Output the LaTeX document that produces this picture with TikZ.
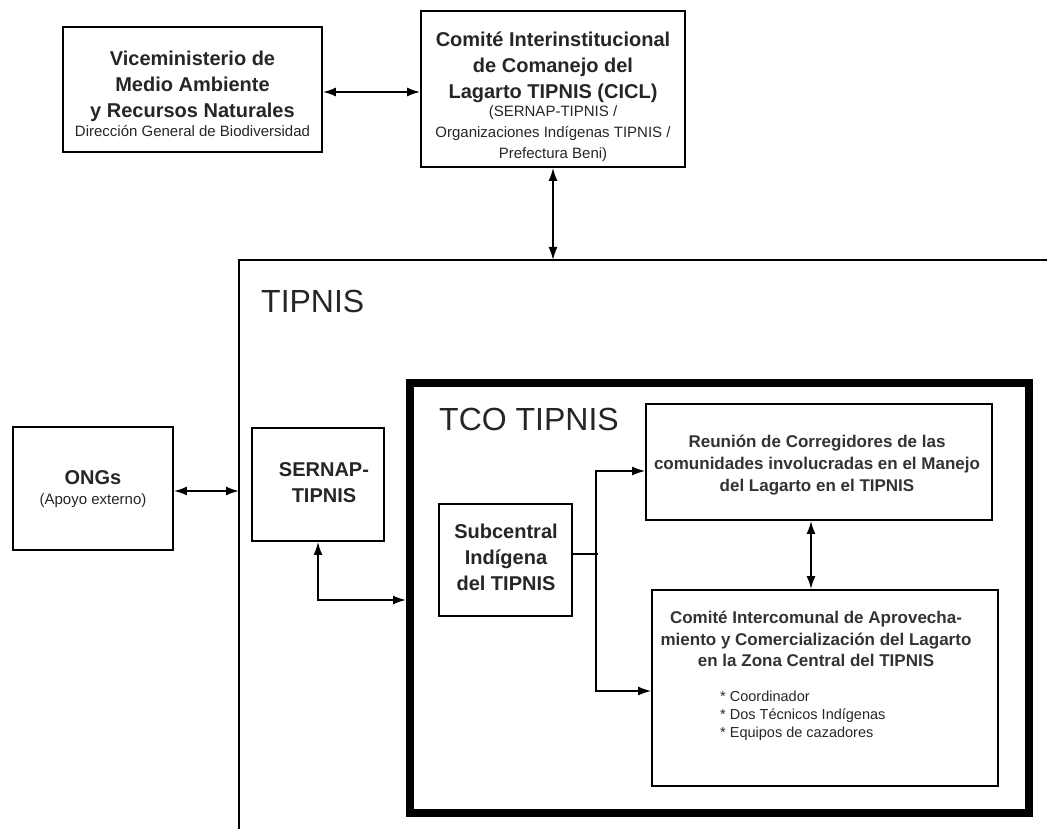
\documentclass[tikz,border=0pt]{standalone}
\usepackage{fontspec}
\setmainfont{Liberation Sans}
\usetikzlibrary{arrows.meta}
\begin{document}
\begin{tikzpicture}[x=1pt,y=-1pt,
  box/.style={draw=black, line width=1.8pt, inner sep=0pt},
  thickbox/.style={draw=black, line width=8pt},
  txt/.style={align=center, inner sep=0pt, text=black!85, font=\fontsize{20}{26}\selectfont\bfseries},
  smalltxt/.style={inner sep=0pt, text=black!85, font=\fontsize{15}{18}\selectfont},
  midtxt/.style={align=center, inner sep=0pt, text=black!80, font=\fontsize{17}{22}\selectfont\bfseries},
  bigtxt/.style={inner sep=0pt, text=black!85, font=\fontsize{32}{36}\selectfont},
  conn/.style={line width=1.8pt},
  biarrow/.style={conn, {Latex[length=13pt,width=9pt]}-{Latex[length=13pt,width=9pt]}},
  onearrow/.style={line width=1.5pt, -{Latex[length=13pt,width=9pt]}}
]
\useasboundingbox (0,0) rectangle (1047,829);
\fill[white] (0,0) rectangle (1047,829);

% top boxes
\node[box, minimum width=259pt, minimum height=125pt] (vice) at (192.5,89.5) {};
\node[txt] (vicet) at (192.5,93.5) {Viceministerio de\\Medio Ambiente\\y Recursos Naturales\\[-7pt]{\fontsize{15}{18}\selectfont\mdseries Dirección General de Biodiversidad}};

\node[box, minimum width=264pt, minimum height=156pt] (cicl) at (553,89) {};
\node[txt] (ciclt) at (553,96.5) {Comité Interinstitucional\\de Comanejo del\\Lagarto TIPNIS (CICL)\\[-8pt]{\fontsize{15}{21}\selectfont\mdseries (SERNAP-TIPNIS /}\\[-5pt]{\fontsize{15}{21}\selectfont\mdseries Organizaciones Indígenas TIPNIS /}\\[-5pt]{\fontsize{15}{21}\selectfont\mdseries Prefectura Beni)}};

% TIPNIS open box
\coordinate (tipTR) at (1047,260);
\coordinate (tipTL) at (239,260);
\coordinate (tipBL) at (239,829);
\draw[conn] (tipTR) -- (tipTL) -- (tipBL);
\node[bigtxt, anchor=base west] (tipnislab) at (261,312) {TIPNIS};
\coordinate (tiptop) at (553,260);
\coordinate (tipleft) at (239,491);

% ONGs and SERNAP
\node[box, minimum width=160pt, minimum height=123pt] (ongs) at (93,488.5) {};
\node[txt] (ongst) at (93,489) {ONGs\\[-6pt]{\fontsize{15}{18}\selectfont\mdseries (Apoyo externo)}};

\node[box, minimum width=132pt, minimum height=113pt] (sernap) at (318,484.5) {};
\node[txt] (sernapt) at (324,483) {SERNAP-\\TIPNIS};

% TCO box
\draw[thickbox] (410,383) rectangle (1029,813);
\node[bigtxt, anchor=base west] (tcolab) at (439,430) {TCO TIPNIS};
\coordinate (tcoin) at (406,600);

% inner boxes
\node[box, minimum width=133pt, minimum height=112pt] (sub) at (505.5,560) {};
\node[txt] (subt) at (506,557) {Subcentral\\Indígena\\del TIPNIS};

\node[box, minimum width=346pt, minimum height=116pt] (reu) at (819,462) {};
\node[midtxt] (reut) at (817,465) {Reunión de Corregidores de las\\comunidades involucradas en el Manejo\\del Lagarto en el TIPNIS};

\node[box, minimum width=346pt, minimum height=196pt] (com) at (825,688) {};
\node[midtxt, font=\fontsize{17}{21.5}\selectfont\bfseries] (comt) at (816,639) {Comité Intercomunal de Aprovecha-\\miento y Comercialización del Lagarto\\en la Zona Central del TIPNIS};
\node[smalltxt, anchor=base west, align=left, font=\fontsize{14.5}{18}\selectfont] (bul) at (720,737) {* Coordinador\\* Dos Técnicos Indígenas\\* Equipos de cazadores};

% connectors
\draw[biarrow] (vice.east |- 0,92) -- (cicl.west |- 0,92);
\draw[biarrow] (cicl.south) -- (tiptop);
\draw[biarrow] (ongs.east |- tipleft) -- (tipleft);
\draw[biarrow] (sernap.south) |- (tcoin);
\draw[biarrow] (reu.south -| 811,0) -- (com.north -| 811,0);

\coordinate (br) at (596,554);
\draw[line width=1.5pt] (sub.east |- br) -- ([xshift=2pt]br);
\draw[onearrow] (br) |- (reu.west |- 0,471);
\draw[onearrow] (br) |- (com.west |- 0,691);
\end{tikzpicture}
\end{document}
